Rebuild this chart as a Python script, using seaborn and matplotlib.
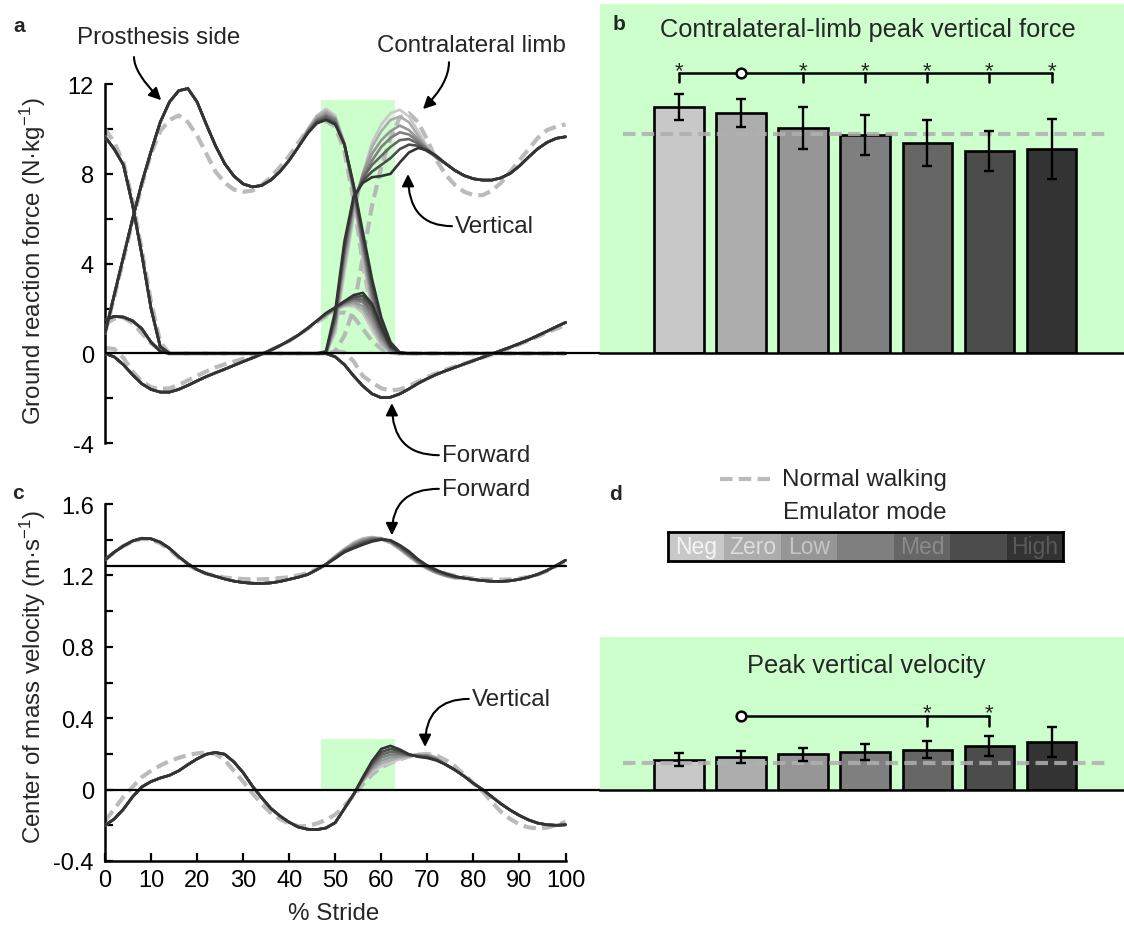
import matplotlib
matplotlib.use('Agg')
import matplotlib.pyplot as plt
from matplotlib.colors import ListedColormap
from matplotlib.lines import Line2D
import pandas as pd
import seaborn as sns

# ---------------- data ----------------
pct = list(range(0, 101, 2))          # % stride
highlight = [47, 63]                  # green band (% stride)

modes = ['Neg', 'Zero', 'Low', 'Low-Med', 'Med', 'Med-High', 'High']
mode_labels = ['Neg', 'Zero', 'Low', '', 'Med', '', 'High']
mode_colors = ['#c8c8c8', '#adadad', '#969696', '#7f7f7f', '#666666', '#4c4c4c', '#333333']
label_colors = ['#f4f4f4', '#dcdcdc', '#c6c6c6', '#999999', '#8a8a8a', '#666666', '#5a5a5a']

# ground reaction force (N/kg), High mode, whole stride
grf_pros_vert = [0.9, 2.6, 4.3, 6.0, 7.6, 9.0, 10.3, 11.2, 11.7, 11.8,
                 11.2, 10.2, 9.25, 8.45, 7.9, 7.55, 7.42, 7.48, 7.72, 8.1,
                 8.6, 9.2, 9.8, 10.25, 10.4, 10.2, 9.3, 7.5, 5.4, 3.3,
                 1.6, 0.5, 0.05, 0, 0, 0, 0, 0, 0, 0,
                 0, 0, 0, 0, 0, 0, 0, 0, 0, 0, 0]
grf_contra_vert = [9.65, 9.1, 8.4, 6.6, 4.4, 2.0, 0.3, 0, 0, 0,
                   0, 0, 0, 0, 0, 0, 0, 0, 0, 0,
                   0, 0, 0, 0, 0.1, 1.9, 5.0, 7.0, 7.6, 7.85,
                   7.9, 8.0, 8.5, 8.95, 9.15, 9.05, 8.8, 8.45, 8.15, 7.92,
                   7.78, 7.72, 7.72, 7.82, 8.02, 8.35, 8.75, 9.12, 9.4, 9.58, 9.65]
grf_pros_fwd = [0.0, -0.15, -0.5, -0.95, -1.35, -1.6, -1.72, -1.72, -1.6, -1.42,
                -1.22, -1.03, -0.86, -0.7, -0.53, -0.36, -0.2, -0.03, 0.15, 0.35,
                0.57, 0.82, 1.12, 1.45, 1.8, 2.05, 2.33, 2.6, 2.7, 2.2,
                1.2, 0.35, 0.03, 0, 0, 0, 0, 0, 0, 0,
                0, 0, 0, 0, 0, 0, 0, 0, 0, 0, 0]
grf_contra_fwd = [1.5, 1.65, 1.62, 1.45, 1.1, 0.5, 0.1, 0, 0, 0,
                  0, 0, 0, 0, 0, 0, 0, 0, 0, 0,
                  0, 0, 0, 0, 0, -0.15, -0.5, -1.0, -1.45, -1.8,
                  -1.97, -1.95, -1.8, -1.58, -1.33, -1.12, -0.93, -0.77, -0.62, -0.47,
                  -0.32, -0.17, -0.02, 0.13, 0.28, 0.44, 0.61, 0.8, 0.99, 1.19, 1.38]

# normal walking GRF
norm_pros_vert = [0.9, 2.5, 4.2, 5.9, 7.5, 8.9, 9.9, 10.4, 10.6, 10.3,
                  9.7, 8.9, 8.1, 7.6, 7.3, 7.2, 7.25, 7.5, 7.85, 8.3,
                  8.8, 9.4, 9.95, 10.3, 10.35, 10.1, 9.0, 6.8, 4.0, 1.8,
                  0.5, 0.05, 0.0, 0, 0, 0, 0, 0, 0, 0,
                  0, 0, 0, 0, 0, 0, 0, 0, 0, 0, 0]
norm_contra_vert = [10.0, 9.4, 8.5, 6.8, 4.6, 2.3, 0.5, 0.0, 0, 0,
                    0, 0, 0, 0, 0, 0, 0, 0, 0, 0,
                    0, 0, 0, 0, 0, 0.1, 0.8, 2.0, 4.3, 6.6,
                    8.3, 9.6, 10.5, 10.7, 10.3, 9.5, 8.6, 7.95, 7.5, 7.2,
                    7.05, 7.05, 7.25, 7.6, 8.1, 8.6, 9.1, 9.6, 9.95, 10.1, 10.2]
norm_pros_fwd = [0.25, 0.2, -0.2, -0.8, -1.25, -1.5, -1.58, -1.55, -1.4, -1.2,
                 -1.0, -0.8, -0.62, -0.48, -0.36, -0.24, -0.12, 0.0, 0.15, 0.35,
                 0.57, 0.82, 1.1, 1.4, 1.65, 1.8, 1.82, 1.62, 1.1, 0.55,
                 0.2, 0.05, 0.0, 0, 0, 0, 0, 0, 0, 0,
                 0, 0, 0, 0, 0, 0, 0, 0, 0, 0, 0]
norm_contra_fwd = [1.3, 1.55, 1.6, 1.35, 0.9, 0.45, 0.15, 0.0, 0, 0,
                   0, 0, 0, 0, 0, 0, 0, 0, 0, 0,
                   0, 0, 0, 0, 0, 0.1, 0.05, -0.35, -1.0, -1.3,
                   -1.55, -1.65, -1.6, -1.45, -1.25, -1.05, -0.88, -0.72, -0.58, -0.45,
                   -0.32, -0.18, -0.04, 0.1, 0.25, 0.41, 0.58, 0.75, 0.93, 1.1, 1.27]

# mode-dependent stretches inside the highlighted band
pros_vert_seg = {  # from 44 %
    'Neg':      [10.0, 10.6, 10.9, 10.6, 9.4, 7.0, 4.2, 1.9, 0.5, 0.05, 0.0],
    'Zero':     [9.95, 10.55, 10.8, 10.5, 9.35, 7.1, 4.4, 2.1, 0.65, 0.1, 0.0],
    'Low':      [9.9, 10.45, 10.7, 10.45, 9.3, 7.2, 4.6, 2.4, 0.8, 0.15, 0.0],
    'Low-Med':  [9.9, 10.4, 10.6, 10.4, 9.3, 7.3, 4.8, 2.6, 1.0, 0.25, 0.0],
    'Med':      [9.85, 10.35, 10.55, 10.3, 9.3, 7.35, 5.0, 2.8, 1.2, 0.3, 0.02],
    'Med-High': [9.8, 10.3, 10.45, 10.25, 9.3, 7.45, 5.2, 3.05, 1.4, 0.4, 0.03],
    'High':     [9.8, 10.25, 10.4, 10.2, 9.3, 7.5, 5.4, 3.3, 1.6, 0.5, 0.05],
}
contra_vert_seg = {  # from 48 %
    'Neg':      [0.0, 0.9, 3.6, 6.1, 8.0, 9.4, 10.2, 10.7, 10.85, 10.55, 9.9, 9.2, 8.7],
    'Zero':     [0.0, 1.1, 3.9, 6.3, 8.0, 9.2, 9.9, 10.4, 10.55, 10.3, 9.7, 9.15, 8.7],
    'Low':      [0.0, 1.3, 4.2, 6.6, 8.0, 8.9, 9.5, 9.9, 10.15, 9.95, 9.55, 9.1, 8.7],
    'Low-Med':  [0.0, 1.4, 4.4, 6.7, 7.9, 8.6, 9.2, 9.6, 9.85, 9.75, 9.45, 9.1, 8.75],
    'Med':      [0.05, 1.6, 4.6, 6.8, 7.8, 8.4, 8.8, 9.2, 9.5, 9.55, 9.35, 9.05, 8.75],
    'Med-High': [0.05, 1.7, 4.8, 6.9, 7.7, 8.1, 8.4, 8.7, 9.1, 9.3, 9.25, 9.0, 8.75],
    'High':     [0.1, 1.9, 5.0, 7.0, 7.6, 7.85, 7.9, 8.0, 8.5, 8.95, 9.15, 9.05, 8.8],
}
pros_fwd_seg = {  # from 48 %
    'Neg':      [1.68, 1.92, 2.1, 2.12, 1.8, 1.05, 0.35, 0.03, 0.0],
    'Zero':     [1.7, 1.95, 2.15, 2.2, 1.95, 1.25, 0.45, 0.06, 0.0],
    'Low':      [1.72, 1.97, 2.2, 2.3, 2.1, 1.45, 0.6, 0.1, 0.0],
    'Low-Med':  [1.74, 2.0, 2.23, 2.38, 2.28, 1.65, 0.75, 0.16, 0.0],
    'Med':      [1.76, 2.02, 2.27, 2.45, 2.4, 1.85, 0.9, 0.22, 0.01],
    'Med-High': [1.78, 2.05, 2.3, 2.52, 2.55, 2.05, 1.05, 0.28, 0.02],
    'High':     [1.8, 2.05, 2.33, 2.6, 2.7, 2.2, 1.2, 0.35, 0.03],
}

# centre of mass velocity (m/s), High mode
mean_speed = 1.25
com_fwd = [1.288, 1.33, 1.365, 1.393, 1.408, 1.405, 1.386, 1.352, 1.305, 1.265,
           1.232, 1.21, 1.195, 1.18, 1.168, 1.16, 1.156, 1.155, 1.158, 1.166,
           1.178, 1.19, 1.205, 1.232, 1.262, 1.295, 1.33, 1.352, 1.372, 1.39,
           1.4, 1.397, 1.37, 1.335, 1.29, 1.255, 1.23, 1.21, 1.195, 1.185,
           1.177, 1.171, 1.167, 1.166, 1.17, 1.178, 1.19, 1.206, 1.228, 1.255, 1.285]
com_vert = [-0.2, -0.165, -0.11, -0.04, 0.015, 0.045, 0.065, 0.08, 0.105, 0.14,
            0.172, 0.198, 0.208, 0.198, 0.155, 0.095, 0.02, -0.045, -0.105, -0.148,
            -0.183, -0.21, -0.222, -0.224, -0.215, -0.185, -0.106, -0.025, 0.07, 0.16,
            0.228, 0.245, 0.225, 0.198, 0.184, 0.177, 0.163, 0.14, 0.11, 0.075,
            0.035, 0.0, -0.04, -0.08, -0.115, -0.145, -0.17, -0.188, -0.197, -0.2, -0.197]
norm_fwd = [1.285, 1.33, 1.365, 1.39, 1.405, 1.4, 1.38, 1.345, 1.3, 1.26,
            1.23, 1.21, 1.197, 1.188, 1.183, 1.18, 1.178, 1.178, 1.18, 1.185,
            1.19, 1.2, 1.213, 1.235, 1.265, 1.3, 1.34, 1.375, 1.4, 1.41,
            1.405, 1.385, 1.355, 1.315, 1.28, 1.25, 1.228, 1.21, 1.198, 1.19,
            1.183, 1.178, 1.176, 1.176, 1.178, 1.183, 1.192, 1.205, 1.225, 1.252, 1.28]
norm_vert = [-0.175, -0.11, -0.04, 0.015, 0.07, 0.105, 0.135, 0.16, 0.178, 0.193,
             0.203, 0.208, 0.2, 0.165, 0.105, 0.045, -0.02, -0.08, -0.13, -0.165,
             -0.19, -0.205, -0.205, -0.19, -0.17, -0.14, -0.09, -0.035, 0.03, 0.085,
             0.125, 0.15, 0.17, 0.185, 0.195, 0.2, 0.19, 0.165, 0.13, 0.085,
             0.035, -0.01, -0.07, -0.125, -0.165, -0.195, -0.212, -0.218, -0.213, -0.2, -0.18]
com_fwd_seg = {  # from 50 %
    'Neg':      [1.31, 1.35, 1.385, 1.408, 1.415, 1.405, 1.38, 1.345, 1.305, 1.265, 1.235, 1.212, 1.195, 1.183],
    'Zero':     [1.307, 1.347, 1.38, 1.404, 1.413, 1.406, 1.384, 1.348, 1.308, 1.269, 1.238, 1.214, 1.197, 1.185],
    'Low':      [1.305, 1.343, 1.375, 1.399, 1.41, 1.406, 1.387, 1.352, 1.312, 1.273, 1.24, 1.216, 1.199, 1.187],
    'Low-Med':  [1.302, 1.34, 1.37, 1.393, 1.406, 1.405, 1.39, 1.356, 1.315, 1.276, 1.243, 1.219, 1.201, 1.189],
    'Med':      [1.3, 1.337, 1.364, 1.387, 1.401, 1.404, 1.392, 1.36, 1.32, 1.28, 1.246, 1.222, 1.204, 1.191],
    'Med-High': [1.298, 1.334, 1.358, 1.38, 1.396, 1.403, 1.395, 1.365, 1.327, 1.285, 1.25, 1.226, 1.207, 1.193],
    'High':     [1.295, 1.33, 1.352, 1.372, 1.39, 1.4, 1.397, 1.37, 1.335, 1.29, 1.255, 1.23, 1.21, 1.195],
}
com_vert_seg = {  # from 54 %
    'Neg':      [-0.03, 0.045, 0.1, 0.13, 0.15, 0.17, 0.19, 0.2, 0.2, 0.18],
    'Zero':     [-0.029, 0.05, 0.11, 0.147, 0.165, 0.178, 0.19, 0.196, 0.196, 0.177],
    'Low':      [-0.028, 0.054, 0.12, 0.163, 0.18, 0.186, 0.19, 0.193, 0.192, 0.174],
    'Low-Med':  [-0.028, 0.058, 0.13, 0.18, 0.196, 0.196, 0.192, 0.19, 0.188, 0.171],
    'Med':      [-0.027, 0.062, 0.14, 0.195, 0.212, 0.205, 0.194, 0.188, 0.184, 0.168],
    'Med-High': [-0.026, 0.066, 0.15, 0.21, 0.228, 0.215, 0.196, 0.186, 0.18, 0.165],
    'High':     [-0.025, 0.07, 0.16, 0.228, 0.245, 0.225, 0.198, 0.184, 0.177, 0.163],
}

# bar panels
peak_force = [10.97, 10.70, 10.03, 9.73, 9.37, 9.00, 9.10]
peak_force_err = [0.58, 0.62, 0.93, 0.88, 1.02, 0.90, 1.35]
normal_peak_force = 9.75
force_sig = [0, 2, 3, 4, 5, 6]
force_ref = 1
peak_vel = [0.168, 0.183, 0.198, 0.209, 0.224, 0.244, 0.267]
peak_vel_err = [0.037, 0.035, 0.037, 0.044, 0.049, 0.056, 0.086]
normal_peak_vel = 0.149
vel_sig = [4, 5]
vel_ref = 1

# ---------------- style ----------------
sns.set_style('white')
plt.rcParams['font.family'] = ['Liberation Sans', 'DejaVu Sans']
plt.rcParams['mathtext.fontset'] = 'custom'
plt.rcParams['mathtext.rm'] = 'Liberation Sans'
plt.rcParams['mathtext.it'] = 'Liberation Sans:italic'
plt.rcParams['axes.unicode_minus'] = False
FS = 17.4
FS_TICK = 17
FS_TITLE = 18.3
GREEN = '#ccffcc'
NORMAL = '#b0b0b0'
DASH = (0, (3.0, 1.5))

W, H = 1124, 928
fig = plt.figure(figsize=(W / 100, H / 100), dpi=100)


def add_axes_px(left, top, right, bottom):
    return fig.add_axes([left / W, 1 - bottom / H, (right - left) / W, (bottom - top) / H])


def with_mode(base, start, seg):
    i = pct.index(start)
    return base[:i] + seg + base[i + len(seg):]


def long_table(curves):
    return pd.concat([pd.DataFrame({'pct': pct, 'value': v, 'mode': m, 'curve': c})
                      for (m, c), v in curves.items()], ignore_index=True)


grf_curves, vel_curves = {}, {}
for m in modes:
    grf_curves[(m, 'pros_vert')] = with_mode(grf_pros_vert, 44, pros_vert_seg[m])
    grf_curves[(m, 'contra_vert')] = with_mode(grf_contra_vert, 48, contra_vert_seg[m])
    grf_curves[(m, 'pros_fwd')] = with_mode(grf_pros_fwd, 48, pros_fwd_seg[m])
    grf_curves[(m, 'contra_fwd')] = grf_contra_fwd
    vel_curves[(m, 'fwd')] = with_mode(com_fwd, 50, com_fwd_seg[m])
    vel_curves[(m, 'vert')] = with_mode(com_vert, 54, com_vert_seg[m])
grf_df = long_table(grf_curves)
vel_df = long_table(vel_curves)
norm_grf_df = long_table({('Normal', 'pros_vert'): norm_pros_vert,
                          ('Normal', 'contra_vert'): norm_contra_vert,
                          ('Normal', 'pros_fwd'): norm_pros_fwd,
                          ('Normal', 'contra_fwd'): norm_contra_fwd})
norm_vel_df = long_table({('Normal', 'fwd'): norm_fwd, ('Normal', 'vert'): norm_vert})

line_kw = dict(x='pct', y='value', units='curve', estimator=None, sort=False, legend=False)
dash_kw = dict(color=NORMAL, lw=3, alpha=0.85, linestyle=DASH, zorder=2)
mode_kw = dict(hue='mode', hue_order=modes, palette=mode_colors, lw=1.9, zorder=3)
arrow_kw = dict(arrowstyle='-|>', color='black', lw=1.5, mutation_scale=18, shrinkA=0, shrinkB=0)


def note(ax, text, text_xy, start, end, conn, ha='left'):
    ax.text(*text_xy, text, ha=ha, va='center', fontsize=FS)
    ax.annotate('', xy=end, xytext=start, annotation_clip=False,
                arrowprops=dict(connectionstyle=conn, **arrow_kw))


def style_line_axes(ax):
    sns.despine(ax=ax)
    for s in ['left', 'bottom']:
        ax.spines[s].set_color('black')
        ax.spines[s].set_linewidth(1.8)
    ax.tick_params(which='both', direction='in', length=6, width=1.6, labelsize=FS_TICK,
                   colors='black', left=True, bottom=True)
    ax.tick_params(axis='y', which='both', pad=8)
    ax.set_xlabel('')
    ax.set_ylabel('')


# ---------------- panel a ----------------
ax_a = add_axes_px(105, 85, 600, 444.3)
ax_a.fill_between(highlight, 0, 11.3, color=GREEN, lw=0, zorder=0)
sns.lineplot(data=norm_grf_df, ax=ax_a, **line_kw, **dash_kw)
sns.lineplot(data=grf_df, ax=ax_a, **line_kw, **mode_kw)
ax_a.axhline(0, color='black', lw=1.6, zorder=4)
ax_a.set_xlim(0, 495 / 4.605)
ax_a.set_ylim(-4, 12)
style_line_axes(ax_a)
ax_a.spines['bottom'].set_visible(False)
ax_a.spines['left'].set_bounds(-4, 12)
ax_a.set_xticks([])
ax_a.set_yticks([-4, 0, 4, 8, 12])
ax_a.set_yticks([-2, 2, 6, 10], minor=True)
ax_a.set_yticklabels(['-4', '0', '4', '8', '12'])

note(ax_a, 'Prosthesis side', (11.7, 14.09), (6.3, 13.2), (12.2, 11.28),
     'angle3,angleA=90,angleB=-45', ha='center')
note(ax_a, 'Contralateral limb', (79.5, 13.73), (74.7, 12.97), (69.05, 10.88),
     'angle3,angleA=90,angleB=45', ha='center')
note(ax_a, 'Vertical', (76.0, 5.67), (75.35, 5.67), (65.8, 7.99), 'angle3,angleA=0,angleB=90')
note(ax_a, 'Forward', (73.2, -4.53), (72.5, -4.53), (62.3, -2.21), 'angle3,angleA=0,angleB=90')

# ---------------- panel c ----------------
ax_c = add_axes_px(105, 505, 600, 862)
ax_c.fill_between(highlight, 0, 0.283, color=GREEN, lw=0, zorder=0)
sns.lineplot(data=norm_vel_df, ax=ax_c, **line_kw, **dash_kw)
sns.lineplot(data=vel_df, ax=ax_c, **line_kw, **mode_kw)
ax_c.axhline(0, color='black', lw=1.6, zorder=4)
ax_c.plot([0, 100], [mean_speed, mean_speed], color='black', lw=1.6, zorder=4)
ax_c.set_xlim(0, 495 / 4.605)
ax_c.set_ylim(-0.4, 1.6)
style_line_axes(ax_c)
ax_c.spines['left'].set_bounds(-0.4, 1.6)
ax_c.spines['bottom'].set_bounds(0, 100)
ax_c.set_xticks(range(0, 101, 10))
ax_c.set_yticks([-0.4, 0, 0.4, 0.8, 1.2, 1.6])
ax_c.set_yticklabels(['-0.4', '0', '0.4', '0.8', '1.2', '1.6'])
ax_c.set_yticks([-0.2, 0.2, 0.6, 1.0, 1.4], minor=True)
ax_c.tick_params(axis='x', pad=6)

note(ax_c, 'Forward', (73.2, 1.685), (72.5, 1.685), (62.3, 1.425), 'angle3,angleA=0,angleB=90')
note(ax_c, 'Vertical', (79.7, 0.508), (79.0, 0.508), (69.5, 0.239), 'angle3,angleA=0,angleB=90')


# ---------------- bar panels ----------------
def bar_panel(ax, vals, errs, normal, sig, ref, line_y, tick_y, star_y, top):
    ax.set_facecolor(GREEN)
    sns.barplot(x=modes, y=vals, hue=modes, order=modes, hue_order=modes, palette=mode_colors,
                saturation=1, legend=False, edgecolor='black', linewidth=1.9, width=0.8,
                errorbar=None, ax=ax, zorder=2)
    ax.errorbar(range(len(modes)), vals, yerr=errs, fmt='none', ecolor='black',
                elinewidth=1.7, capsize=3.5, capthick=1.7, zorder=4)
    ax.hlines(normal, -0.9, 6.89, color=NORMAL, lw=3, alpha=0.85, linestyles=[DASH], zorder=3)
    first, last = min(sig + [ref]), max(sig + [ref])
    ax.plot([first, last], [line_y, line_y], color='black', lw=1.8, zorder=4)
    for i in sig:
        ax.plot([i, i], [tick_y, line_y], color='black', lw=1.8, zorder=4)
        ax.text(i, star_y, '*', ha='center', va='baseline', fontsize=16, zorder=5)
    ax.plot([ref], [line_y], 'o', ms=7, mfc='white', mec='black', mew=1.8, zorder=5)
    ax.set_xlim(-1.272, 7.166)
    ax.set_ylim(0, top)
    ax.set_xticks([])
    ax.set_yticks([])
    ax.set_xlabel('')
    ax.set_ylabel('')
    for s in ['top', 'right', 'left']:
        ax.spines[s].set_visible(False)
    ax.spines['bottom'].set_color('black')
    ax.spines['bottom'].set_linewidth(1.8)


ax_b = add_axes_px(600, 5, 1124, 354.3)
bar_panel(ax_b, peak_force, peak_force_err, normal_peak_force, force_sig, force_ref,
          12.46, 12.07, 12.36, 349.3 / 22.46)
ax_d = add_axes_px(600, 638, 1124, 790.6)
bar_panel(ax_d, peak_vel, peak_vel_err, normal_peak_vel, vel_sig, vel_ref,
          0.411, 0.358, 0.402, 152.6 / 178.5)

# ---------------- legend ----------------
ax_leg = add_axes_px(668, 533, 1063, 562)
sns.heatmap([list(range(len(modes)))], cmap=ListedColormap(mode_colors), vmin=-0.5, vmax=6.5,
            cbar=False, annot=[mode_labels], fmt='', annot_kws={'fontsize': 16.5}, ax=ax_leg)
for t, c in zip(ax_leg.texts, label_colors):
    t.set_color(c)
ax_leg.set_xticks([])
ax_leg.set_yticks([])
for s in ax_leg.spines.values():
    s.set_visible(True)
    s.set_linewidth(2)
    s.set_color('black')

fig.add_artist(Line2D([720 / W, 773 / W], [1 - 480 / H] * 2, transform=fig.transFigure,
                      color=NORMAL, lw=3, alpha=0.85, linestyle=DASH))
fig.text(782 / W, 1 - 480 / H, 'Normal walking', ha='left', va='center', fontsize=FS)
fig.text(865 / W, 1 - 513 / H, 'Emulator mode', ha='center', va='center', fontsize=FS)

# ---------------- titles and labels ----------------
fig.text(868 / W, 1 - 30 / H, 'Contralateral-limb peak vertical force', ha='center', va='center',
         fontsize=FS_TITLE)
fig.text(866 / W, 1 - 666 / H, 'Peak vertical velocity', ha='center', va='center', fontsize=FS_TITLE)
fig.text(33 / W, 1 - 261 / H, 'Ground reaction force (N·kg$^{-1}$)', rotation=90,
         ha='center', va='center', fontsize=FS)
fig.text(33 / W, 1 - 677 / H, 'Center of mass velocity (m·s$^{-1}$)', rotation=90,
         ha='center', va='center', fontsize=FS)
fig.text(334 / W, 1 - 914 / H, '% Stride', ha='center', va='center', fontsize=FS)
for lab, x, y in [('a', 19, 27), ('b', 619, 25), ('c', 18, 494), ('d', 616, 495)]:
    fig.text(x / W, 1 - y / H, lab, ha='center', va='center', fontsize=15, fontweight='bold')

fig.savefig('out.png', dpi=100)
